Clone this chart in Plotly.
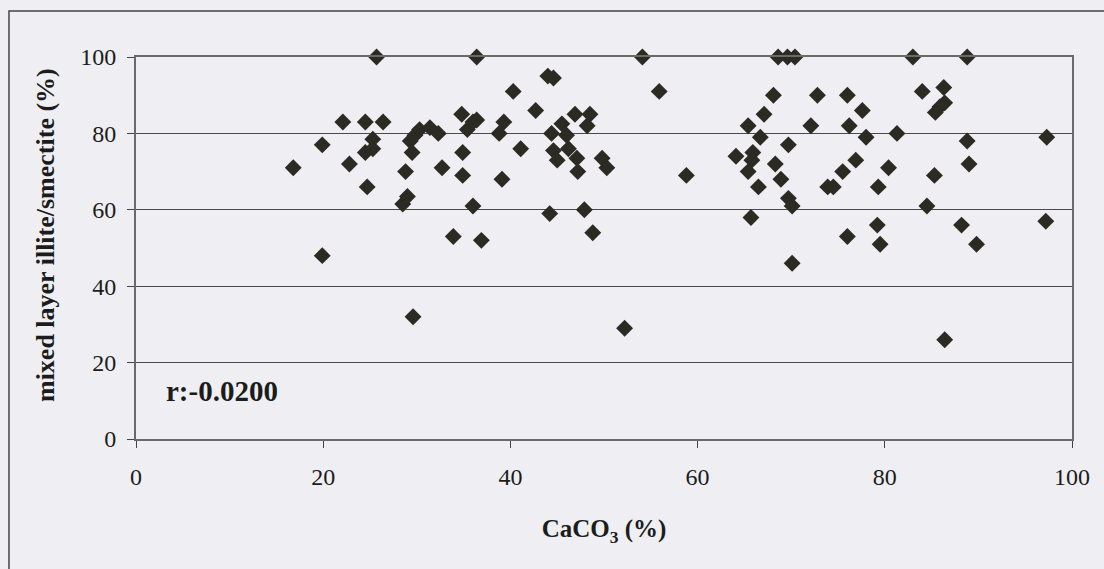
import plotly.graph_objects as go

caco3 = [16.8, 19.9, 19.9, 22.1, 22.8, 24.5, 24.5, 24.7, 25.3, 25.3, 25.7, 26.4,
         28.8, 28.5, 29.0, 29.5, 29.3, 29.8, 30.3, 29.6, 31.4, 32.3, 32.7, 33.9,
         34.8, 34.9, 34.9, 35.4, 36.0, 36.4, 36.0, 36.4, 36.9, 38.8, 39.3, 39.1,
         40.3, 41.1, 42.7, 44.0, 44.6, 44.2, 44.4, 45.5, 46.0, 46.2, 46.9, 48.5,
         48.2, 44.6, 45.0, 47.1, 47.2, 47.9, 48.8, 49.8, 50.3, 52.2, 54.1, 55.9,
         58.8, 64.1, 65.4, 65.9, 65.8, 65.4, 66.7, 67.1, 68.1, 66.5, 65.7, 68.3,
         68.9, 69.7, 69.7, 70.1, 70.1, 68.6, 69.6, 70.4, 72.8, 72.1, 73.9, 76.0,
         77.6, 76.2, 78.0, 81.3, 84.0, 86.3, 86.4, 85.9, 85.4, 88.8, 89.0, 97.3,
         76.9, 75.5, 74.5, 80.4, 79.3, 85.3, 84.5, 79.2, 79.5, 76.0, 88.2, 89.8,
         97.2, 86.4, 83.0, 88.8]
illite_smectite = [71, 77, 48, 83, 72, 83, 75, 66, 78.5, 76, 100, 83,
                   70, 61.5, 63.5, 75, 78, 79.5, 81, 32, 81.5, 80, 71, 53,
                   85, 75, 69, 81, 83, 83.5, 61, 100, 52, 80, 83, 68,
                   91, 76, 86, 95, 94.5, 59, 80, 82.5, 79.5, 76, 85, 85,
                   82, 75.5, 73, 73.5, 70, 60, 54, 73.5, 71, 29, 100, 91,
                   69, 74, 82, 75, 73, 70, 79, 85, 90, 66, 58, 72,
                   68, 77, 63, 61, 46, 100, 100, 100, 90, 82, 66, 90,
                   86, 82, 79, 80, 91, 92, 88, 87, 85.5, 78, 72, 79,
                   73, 70, 66, 71, 66, 69, 61, 56, 51, 53, 56, 51,
                   57, 26, 100, 100]

x_ticks = [0, 20, 40, 60, 80, 100]
y_ticks = [0, 20, 40, 60, 80, 100]
annotation_text = "r:-0.0200"
x_title = "<b>CaCO<sub>3</sub> (%)</b>"
y_title = "<b>mixed layer illite/smectite (%)</b>"

FONT = "Liberation Serif"
INK = "#2b2b24"
BG = "#efeff3"
TXT = "#1c1c1c"

fig = go.Figure()
fig.add_trace(go.Scatter(
    x=caco3, y=illite_smectite, mode="markers",
    marker=dict(symbol="diamond", size=13, color=INK, line=dict(width=0)),
    showlegend=False, cliponaxis=False,
))

fig.update_layout(
    width=1104, height=569,
    margin=dict(l=136, r=32, t=57, b=130),
    paper_bgcolor=BG, plot_bgcolor=BG,
    font=dict(family=FONT, size=24, color=TXT),
    xaxis=dict(
        range=[0, 100], tickvals=x_ticks, ticks="outside", ticklen=7,
        tickcolor="#444", showgrid=False, zeroline=False,
        showline=True, linecolor="#6a6a6a", linewidth=2, mirror=True,
        ticklabelstandoff=8,
        tickfont=dict(size=24, family=FONT, color=TXT),
        title=dict(text=x_title, font=dict(size=25, family=FONT, color=TXT), standoff=31),
    ),
    yaxis=dict(
        range=[0, 100], tickvals=y_ticks, ticks="outside", ticklen=7,
        tickcolor="#444", showgrid=True, gridcolor="#4a4a4a", gridwidth=1,
        zeroline=False, showline=True, linecolor="#6a6a6a", linewidth=2, mirror=True,
        ticklabelstandoff=6,
        tickfont=dict(size=24, family=FONT, color=TXT),
    ),
    shapes=[dict(
        type="rect", xref="paper", yref="paper",
        x0=-0.1357, x1=1.2, y0=-0.5, y1=1.1204,
        line=dict(color="#444", width=1.5), fillcolor="rgba(0,0,0,0)", layer="below",
    )],
    annotations=[
        dict(
            x=3.0, y=12.6, xref="x", yref="y", text="<b>" + annotation_text + "</b>",
            showarrow=False, xanchor="left", yanchor="middle",
            font=dict(size=29, family=FONT, color=TXT),
        ),
        dict(
            x=-0.0972, y=0.534, xref="paper", yref="paper", text=y_title,
            textangle=-90, showarrow=False, xanchor="center", yanchor="middle",
            font=dict(size=26, family=FONT, color=TXT),
        ),
    ],
)

fig.write_html("out.html")
